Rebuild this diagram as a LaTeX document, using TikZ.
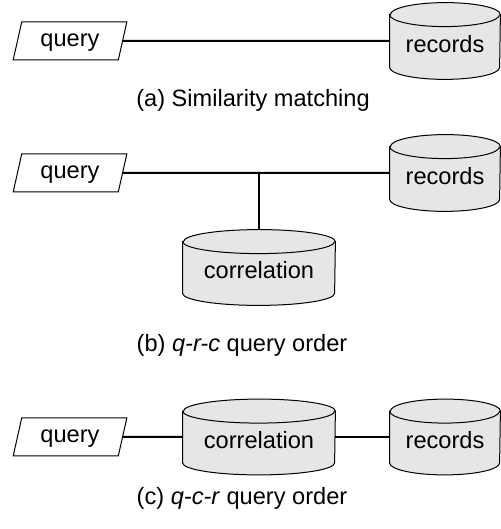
\documentclass[tikz,border=0pt]{standalone}
\usepackage{fontspec}
\setmainfont{Liberation Sans}
\usepackage{xcolor}
\usetikzlibrary{shapes.geometric, backgrounds}
\definecolor{dbgray}{HTML}{E6E6E6}
\tikzset{
  query/.style={trapezium, trapezium left angle=63.4, trapezium right angle=116.6,
    trapezium stretches=true, draw, line width=0.5pt, minimum width=57pt, minimum height=19pt,
    inner sep=0pt, text height=0.52em, text depth=0pt},
  db/.style={rectangle, inner sep=0pt, minimum height=38pt, text height=12pt, text depth=0.5pt},
  dbline/.style={draw, fill=dbgray, line width=0.5pt},
  link/.style={line width=1pt},
  caption/.style={inner sep=0pt}
}
% cylinder round a db node: #1 node, #2 half width
\newcommand{\drawdb}[2]{%
  \path[dbline] ([yshift=-6pt]#1.north west) -- ([yshift=6pt]#1.south west)
    arc[start angle=180, end angle=360, x radius=#2, y radius=6pt]
    -- ([yshift=-6pt]#1.north east)
    arc[start angle=0, end angle=180, x radius=#2, y radius=6pt] -- cycle;
  \draw[line width=0.5pt] ([yshift=-6pt]#1.north west)
    arc[start angle=180, end angle=360, x radius=#2, y radius=6pt];
}
\begin{document}
\begin{tikzpicture}[x=0.5pt, y=0.5pt, font=\fontsize{11.8}{14}\selectfont]
\useasboundingbox (0,0) rectangle (501,529);
% (a)
\node[query] (qa) at (70,488) {query};
\node[db, minimum width=55pt] (ra) at (445,488) {records};
\node[caption] (capa) at (253,429) {(a) Similarity matching};
% (b)
\node[query] (qb) at (70,356) {query};
\node[db, minimum width=55pt] (rb) at (445,356) {records};
\node[db, minimum width=76pt, minimum height=37.5pt] (cb) at (259,261.5) {correlation};
\node[caption] (capb) at (242,184) {(b) \textit{q-r-c} query order};
% (c)
\node[query] (qc) at (70,92) {query};
\node[db, minimum width=76pt, minimum height=37.5pt] (cc) at (259,92) {correlation};
\node[db, minimum width=55pt, minimum height=37.5pt] (rc) at (445,92) {records};
\node[caption] (capc) at (242,31) {(c) \textit{q-c-r} query order};
\begin{scope}[on background layer]
  \drawdb{ra}{27.5pt}
  \drawdb{rb}{27.5pt}
  \drawdb{cb}{38pt}
  \drawdb{cc}{38pt}
  \drawdb{rc}{27.5pt}
\end{scope}
% links
\draw[link] (qa) -- (ra);
\draw[link] (qb) -- (rb);
\coordinate (jb) at (cb.north |- qb.east);
\draw[link] (jb) -- (cb);
\draw[link] (qc) -- (cc);
\draw[link] (cc) -- (rc);
\end{tikzpicture}
\end{document}
